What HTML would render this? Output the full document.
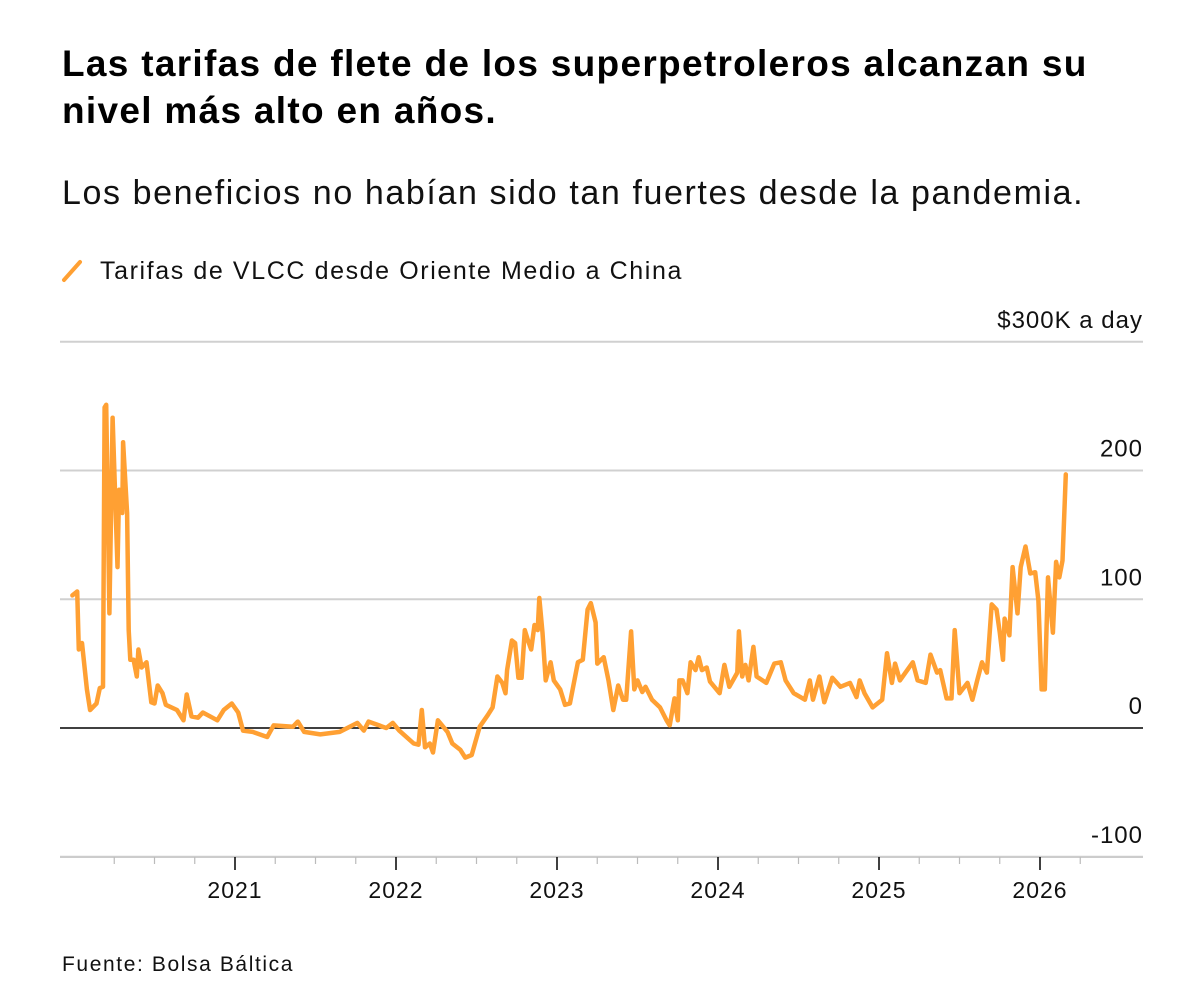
<!DOCTYPE html>
<html><head><meta charset="utf-8"><style>
body{margin:0;background:#fff;width:1200px;height:999px;overflow:hidden;font-family:"Liberation Sans",Arial,sans-serif;color:#000}
h1{position:absolute;left:62px;top:40px;margin:0;font-size:37px;line-height:47px;font-weight:bold;width:1070px;letter-spacing:1.3px}
.sub{position:absolute;left:62px;top:174px;font-size:34px;color:#111;letter-spacing:1.6px;white-space:nowrap}
.src{position:absolute;left:62px;top:953px;font-size:21px;color:#111;letter-spacing:1.6px}
svg{position:absolute;left:0;top:0}
svg text{letter-spacing:1px}
</style></head><body>
<h1>Las tarifas de flete de los superpetroleros alcanzan su nivel más alto en años.</h1>
<div class="sub">Los beneficios no habían sido tan fuertes desde la pandemia.</div>
<div class="src">Fuente: Bolsa Báltica</div>
<svg id="chart" width="1200" height="999">
<g>
<line x1="64" y1="280" x2="80" y2="262" stroke="#ffa033" stroke-width="4" stroke-linecap="round"/>
<text x="100" y="279" font-size="25" fill="#111" style="letter-spacing:1.6px">Tarifas de VLCC desde Oriente Medio a China</text>
</g>
</svg>
<script>
const dates=[2019.99,2020.02,2020.03,2020.05,2020.08,2020.10,2020.14,2020.16,2020.18,2020.19,2020.20,2020.22,2020.24,2020.27,2020.28,2020.30,2020.305,2020.33,2020.34,2020.35,2020.37,2020.39,2020.40,2020.42,2020.45,2020.48,2020.50,2020.52,2020.55,2020.57,2020.64,2020.68,2020.70,2020.73,2020.77,2020.80,2020.86,2020.89,2020.93,2020.98,2021.02,2021.05,2021.11,2021.20,2021.24,2021.36,2021.39,2021.43,2021.53,2021.65,2021.76,2021.80,2021.83,2021.94,2021.98,2022.02,2022.11,2022.14,2022.16,2022.18,2022.21,2022.23,2022.26,2022.32,2022.35,2022.40,2022.43,2022.47,2022.52,2022.57,2022.60,2022.63,2022.66,2022.68,2022.69,2022.72,2022.74,2022.76,2022.78,2022.80,2022.82,2022.84,2022.86,2022.88,2022.89,2022.91,2022.93,2022.96,2022.98,2023.02,2023.05,2023.08,2023.13,2023.16,2023.19,2023.21,2023.24,2023.25,2023.29,2023.32,2023.35,2023.38,2023.41,2023.43,2023.46,2023.48,2023.50,2023.53,2023.55,2023.59,2023.64,2023.68,2023.70,2023.73,2023.75,2023.76,2023.78,2023.81,2023.83,2023.86,2023.88,2023.90,2023.93,2023.95,2024.01,2024.04,2024.07,2024.12,2024.13,2024.15,2024.17,2024.19,2024.22,2024.24,2024.30,2024.35,2024.39,2024.42,2024.47,2024.54,2024.57,2024.59,2024.63,2024.66,2024.71,2024.76,2024.82,2024.86,2024.88,2024.91,2024.96,2025.02,2025.05,2025.08,2025.10,2025.13,2025.21,2025.24,2025.29,2025.32,2025.36,2025.38,2025.42,2025.45,2025.47,2025.50,2025.55,2025.58,2025.61,2025.64,2025.67,2025.70,2025.73,2025.75,2025.77,2025.78,2025.81,2025.83,2025.86,2025.88,2025.91,2025.94,2025.97,2025.99,2026.01,2026.03,2026.05,2026.08,2026.10,2026.12,2026.14,2026.16];
const rates=[103,106,61,66,30,14,19,31,32,249,251,89,241,125,185,167,222,167,76,53,53,40,61,47,51,20,19,33,27,18,14,6,26,9,8,12,8,6,14,19,12,-2,-3,-7,2,1,5,-3,-5,-3,4,-2,5,0,4,-2,-12,-13,14,-15,-12,-19,6,-3,-12,-17,-23,-21,1,10,16,40,35,27,45,68,66,39,39,76,68,61,80,76,101,74,37,51,37,30,18,19,51,53,92,97,82,50,55,37,14,33,22,22,75,30,37,28,32,22,16,6,2,23,6,37,37,27,51,45,55,45,47,36,27,49,32,43,75,40,49,37,63,40,35,50,51,37,27,22,37,22,40,20,39,32,35,24,37,27,16,22,58,35,50,37,51,37,35,57,43,45,23,23,76,27,35,22,37,51,43,96,92,74,53,85,72,125,89,125,141,120,121,99,30,30,117,74,129,117,130,197];
const yTicks=[300,200,100,0,-100];
const yTickLabels=["$300K a day","200","100","0","-100"];
const years=[2021,2022,2023,2024,2025,2026];
const NS="http://www.w3.org/2000/svg";
const svg=document.getElementById('chart');
const X=d=>235+(d-2021)*161;
const Y=v=>728-v*1.2875;
function mk(t,a){const e=document.createElementNS(NS,t);for(const k in a)e.setAttribute(k,a[k]);svg.appendChild(e);return e;}
yTicks.forEach((t,i)=>{
  const g=mk('line',{x1:60,x2:1143,y1:Y(t),y2:Y(t),stroke:t===0?'#000':'#d0d0d0','stroke-width':t===0?1.5:2});
  
  
  const tx=mk('text',{x:1143,y:Y(t)-14,'font-size':24,'text-anchor':'end',fill:'#111'});
  tx.textContent=yTickLabels[i];
  
  
});
const ax=mk('line',{x1:60,x2:1143,y1:857,y2:857,stroke:'#ccc','stroke-width':2});


for(let q=2020.25;q<2026.3;q+=0.25){
  const major=Math.abs(q-Math.round(q))<0.01;
  const tk=mk('line',{x1:X(q),x2:X(q),y1:857,y2:major?870:864,stroke:major?'#000':'#bbb','stroke-width':major?1.5:1.2});
  
  
}
years.forEach(yr=>{
  const tx=mk('text',{x:X(yr),y:898,'font-size':23,'text-anchor':'middle',fill:'#111'});
  tx.textContent=yr;
  
  
});
const p=mk('path',{d:dates.map((d,i)=>(i?'L':'M')+X(d).toFixed(1)+','+Y(rates[i]).toFixed(1)).join(''),fill:'none',stroke:'#ffa033','stroke-width':4.5,'stroke-linejoin':'round','stroke-linecap':'round'});


</script>
</body></html>
